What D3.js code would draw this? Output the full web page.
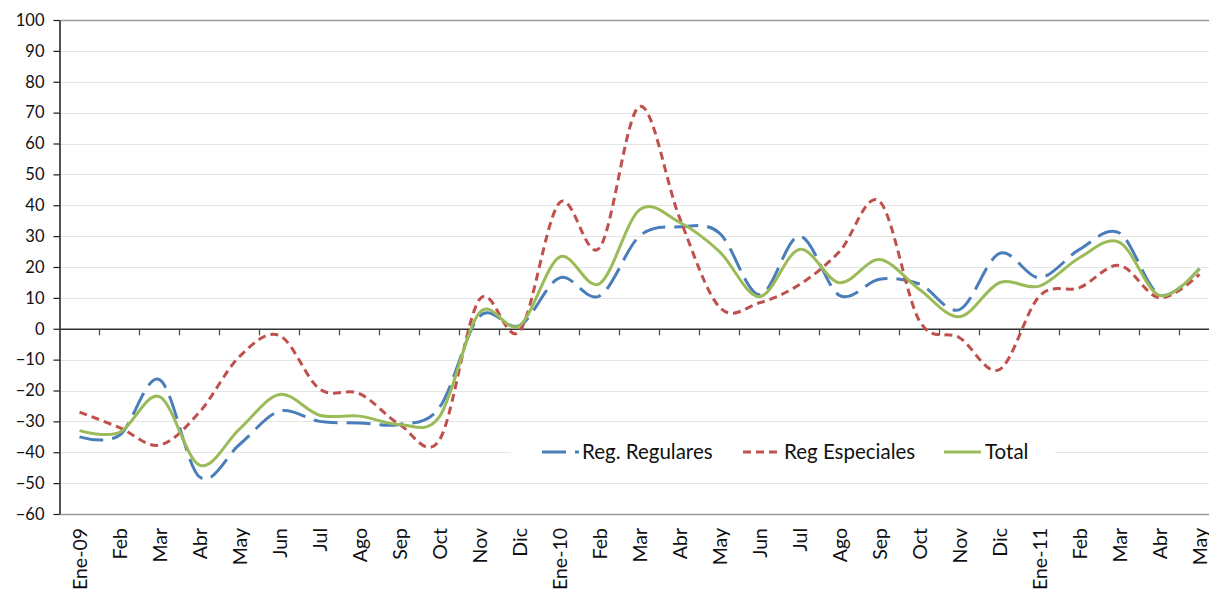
<!DOCTYPE html>
<html>
<head>
<meta charset="utf-8">
<script src="https://cdn.jsdelivr.net/npm/d3@7"></script>
<style>
  html, body { margin: 0; padding: 0; background: #fff; overflow: hidden; }
  svg { display: block; font-family: Lato, "Open Sans", sans-serif; }
</style>
</head>
<body>
<svg id="chart" width="1209" height="590"></svg>
<script>
const categories = ["Ene-09","Feb","Mar","Abr","May","Jun","Jul","Ago","Sep","Oct","Nov","Dic",
  "Ene-10","Feb","Mar","Abr","May","Jun","Jul","Ago","Sep","Oct","Nov","Dic",
  "Ene-11","Feb","Mar","Abr","May"];
const regRegulares = [-35,-34.5,-16.5,-48,-37.5,-26.7,-30,-30.5,-31,-25.5,4,1,
  16.5,10.6,30,33,31,11,30,10.8,16,14.5,6.2,24.4,16.5,25.7,31,11,19.5];
const regEspeciales = [-27,-32,-37.7,-27,-9,-2.2,-19.5,-21,-31,-36,9.5,-0.8,
  40.8,26.2,72,36,7,8.4,14.3,25,41.3,2.5,-2.9,-13.2,10.6,13.3,20.5,10,17.6];
const total = [-33,-33.6,-22,-44.2,-32.5,-21.3,-28,-28.3,-31,-28.5,5.2,1,
  23.2,14.6,38.5,34.5,25,10.4,25.7,14.9,22.4,12.7,3.9,14.9,13.8,23,28,10.8,19.4];
const yTicks = [-60,-50,-40,-30,-20,-10,0,10,20,30,40,50,60,70,80,90,100];
const seriesNames = ["Reg. Regulares","Reg Especiales","Total"];

const svg = d3.select("#chart");
const left = 59.5, bandW = 40;
const x = d3.scaleBand().domain(d3.range(categories.length))
  .range([left, left + bandW * categories.length]).padding(0);
const y = d3.scaleLinear().domain([-60, 100]).range([514, 20]);
const cx = i => x(i) + x.bandwidth() / 2;
const right = left + bandW * categories.length;

// gridlines
svg.append("g").selectAll("line")
  .data(yTicks.filter(t => t !== -60 && t !== 100 && t !== 0))
  .join("line")
  .attr("x1", left).attr("x2", right)
  .attr("y1", d => Math.round(y(d)) + 0.5).attr("y2", d => Math.round(y(d)) + 0.5)
  .attr("stroke", "#c8c8c8").attr("stroke-width", 1).attr("stroke-dasharray", "1,1");

// top & bottom border
[100, -60].forEach(t => {
  svg.append("line").attr("x1", left).attr("x2", right)
    .attr("y1", Math.round(y(t)) + 0.5).attr("y2", Math.round(y(t)) + 0.5)
    .attr("stroke", "#9a9a9a").attr("stroke-width", 1.5);
});

// y axis
const yAxis = d3.axisLeft(y).tickValues(yTicks).tickSize(6).tickSizeOuter(0).tickPadding(9);
const yg = svg.append("g").attr("transform", `translate(${left},0)`).call(yAxis);
yg.select(".domain").attr("stroke", "#1a1a1a").attr("stroke-width", 1.5);
yg.selectAll(".tick line").attr("stroke", "#1a1a1a").attr("stroke-width", 1.2);
yg.selectAll(".tick text").attr("font-size", 16.5).attr("fill", "#111")
  .attr("font-family", "Lato, 'Open Sans', sans-serif");

// zero axis with ticks
const xAxis = d3.axisBottom(x).tickSize(0).tickFormat("");
const xg = svg.append("g").attr("transform", `translate(0,${y(0)})`).call(xAxis);
xg.select(".domain").attr("stroke", "#333").attr("stroke-width", 1.5);
svg.append("g").selectAll("line")
  .data(d3.range(1, categories.length + 1))
  .join("line")
  .attr("x1", d => left + d * bandW).attr("x2", d => left + d * bandW)
  .attr("y1", y(0)).attr("y2", y(0) + 6.5)
  .attr("stroke", "#444").attr("stroke-width", 1.2);

// category labels at bottom
svg.append("g").selectAll("text")
  .data(categories)
  .join("text")
  .attr("transform", (d, i) => `translate(${cx(i)},528) rotate(-90)`)
  .attr("text-anchor", "end")
  .attr("dy", "0.36em")
  .attr("font-size", 19.5)
  .attr("fill", "#111")
  .text(d => d);

// lines
const styles = [
  { data: regRegulares, color: "#4a7ebb", dash: "24,9" },
  { data: regEspeciales, color: "#c0504d", dash: "8,5" },
  { data: total, color: "#9bbb59", dash: null }
];
const line = d3.line().x((d, i) => cx(i)).y(d => y(d)).curve(d3.curveCardinal.tension(0));

// legend background (draw before lines? lines pass under legend area minimal) 
const lg = svg.append("g");
lg.append("rect").attr("x", 511).attr("y", 432).attr("width", 544).attr("height", 42).attr("fill", "#fff");

styles.forEach(s => {
  svg.append("path").datum(s.data)
    .attr("d", line)
    .attr("fill", "none")
    .attr("stroke", s.color)
    .attr("stroke-width", 3)
    .attr("stroke-linecap", "butt")
    .attr("stroke-dasharray", s.dash);
});

// legend items
const legendItems = [
  { x1: 542, x2: 579, tx: 582 },
  { x1: 743, x2: 781, tx: 784 },
  { x1: 944, x2: 981, tx: 985 }
];
legendItems.forEach((it, k) => {
  lg.append("line").attr("x1", it.x1).attr("x2", it.x2).attr("y1", 452).attr("y2", 452)
    .attr("stroke", styles[k].color).attr("stroke-width", 3)
    .attr("stroke-dasharray", styles[k].dash);
  lg.append("text").attr("x", it.tx).attr("y", 452).attr("dy", "0.35em")
    .attr("font-size", 20.5).attr("fill", "#111").text(seriesNames[k]);
});
lg.raise();
</script>
</body>
</html>
